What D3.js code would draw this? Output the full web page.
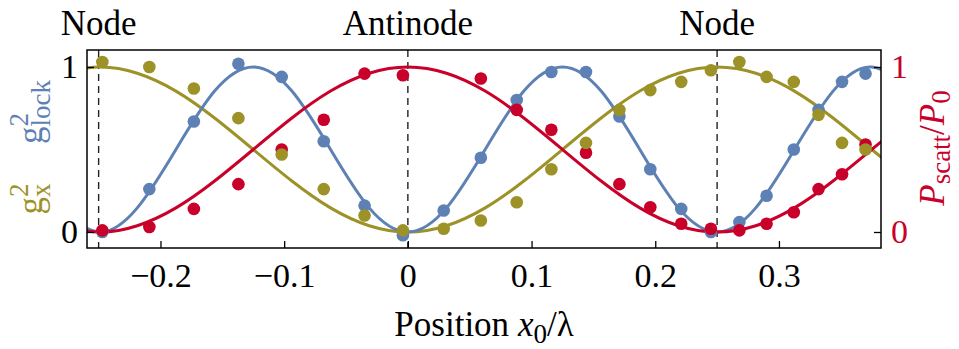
<!DOCTYPE html>
<html>
<head>
<meta charset="utf-8">
<script src="https://cdn.jsdelivr.net/npm/d3@7"></script>
<style>
  body { margin: 0; background: #fff; }
</style>
</head>
<body>
<div id="chart"></div>
<script>
// measured points (shared x positions, in units of lambda)
const dotX = [-0.247, -0.209, -0.173, -0.137, -0.102, -0.068, -0.035, -0.004, 0.029, 0.059, 0.088, 0.116,
              0.144, 0.171, 0.196, 0.221, 0.245, 0.268, 0.290, 0.312, 0.332, 0.351, 0.370];
const lockDots = [0.00, 0.26, 0.67, 1.02, 0.94, 0.55, 0.16, -0.02, 0.13, 0.45, 0.80, 0.97,
                  0.97, 0.70, 0.38, 0.14, 0.00, 0.06, 0.22, 0.50, 0.74, 0.91, 0.96];
const xDots = [1.03, 1.00, 0.87, 0.69, 0.47, 0.26, 0.10, 0.01, 0.02, 0.07, 0.18, 0.38,
               0.54, 0.74, 0.86, 0.91, 0.98, 1.03, 0.94, 0.91, 0.71, 0.54, 0.50];
const scattDots = [0.01, 0.03, 0.14, 0.29, 0.50, 0.68, 0.96, 0.95, null, 0.93, 0.74, 0.62,
                   0.48, 0.29, 0.15, 0.05, 0.02, 0.01, 0.05, 0.12, 0.26, 0.35, 0.53];

const curveX = [-0.28125, -0.25, -0.21875, -0.1875, -0.15625, -0.125, -0.09375, -0.0625, -0.03125, 0,
                0.03125, 0.0625, 0.09375, 0.125, 0.15625, 0.1875, 0.21875, 0.25, 0.28125, 0.3125,
                0.34375, 0.375, 0.40625];
const lockCurve = [0.146, 0, 0.146, 0.5, 0.854, 1, 0.854, 0.5, 0.146, 0, 0.146, 0.5, 0.854, 1,
                   0.854, 0.5, 0.146, 0, 0.146, 0.5, 0.854, 1, 0.854];
const xCurve = [0.962, 1, 0.962, 0.854, 0.691, 0.5, 0.309, 0.146, 0.038, 0, 0.038, 0.146, 0.309, 0.5,
                0.691, 0.854, 0.962, 1, 0.962, 0.854, 0.691, 0.5, 0.309];
const scattCurve = [0.038, 0, 0.038, 0.146, 0.309, 0.5, 0.691, 0.854, 0.962, 1, 0.962, 0.854, 0.691, 0.5,
                    0.309, 0.146, 0.038, 0, 0.038, 0.146, 0.309, 0.5, 0.691];

const xTicks = [-0.2, -0.1, 0, 0.1, 0.2, 0.3];
const yTicks = [0, 1];
const markers = [{x: -0.25, label: "Node"}, {x: 0, label: "Antinode"}, {x: 0.25, label: "Node"}];

const BLUE = "#5e81b5";
const OLIVE = "#9c9227";
const RED = "#c8002a";
const FONT = "'Liberation Serif', Tinos, 'Times New Roman', serif";

const W = 959, H = 349;
const plotLeft = 87, plotTop = 50, plotRight = 881, plotBottom = 248;
const FS = 35;      // labels
const TICK_FS = 34;
const SUB_FS = 27;

const svg = d3.select("#chart").append("svg")
    .attr("width", W).attr("height", H)
    .style("font-family", FONT);

const x = d3.scaleLinear().domain([-0.2594, 0.3825]).range([plotLeft, plotRight]);
const y = d3.scaleLinear().domain([-0.097, 1.103]).range([plotBottom, plotTop]);

svg.append("clipPath").attr("id", "plot-clip")
    .append("rect")
    .attr("x", plotLeft).attr("y", plotTop)
    .attr("width", plotRight - plotLeft).attr("height", plotBottom - plotTop);

// dashed node / antinode lines
svg.selectAll("line.marker")
    .data(markers)
    .join("line")
    .attr("class", "marker")
    .attr("x1", d => x(d.x)).attr("x2", d => x(d.x))
    .attr("y1", plotTop).attr("y2", plotBottom)
    .attr("stroke", "#222")
    .attr("stroke-width", 1.4)
    .attr("stroke-dasharray", "7,5");

svg.selectAll("text.marker")
    .data(markers)
    .join("text")
    .attr("class", "marker")
    .attr("x", d => x(d.x))
    .attr("y", 35)
    .attr("text-anchor", "middle")
    .attr("font-size", FS)
    .text(d => d.label);

// curves
const line = d3.line()
    .x(d => x(d[0]))
    .y(d => y(d[1]))
    .curve(d3.curveNatural);

const curves = [
    {vals: xCurve, color: OLIVE},
    {vals: lockCurve, color: BLUE},
    {vals: scattCurve, color: RED}
];

const curveG = svg.append("g").attr("clip-path", "url(#plot-clip)");
curveG.selectAll("path")
    .data(curves)
    .join("path")
    .attr("d", c => line(curveX.map((v, i) => [v, c.vals[i]])))
    .attr("fill", "none")
    .attr("stroke", c => c.color)
    .attr("stroke-width", 3);

// measured dots
const dotSets = [
    {vals: lockDots, color: BLUE},
    {vals: scattDots, color: RED},
    {vals: xDots, color: OLIVE}
];

dotSets.forEach(s => {
    svg.append("g")
        .selectAll("circle")
        .data(dotX.map((v, i) => [v, s.vals[i]]).filter(d => d[1] !== null))
        .join("circle")
        .attr("cx", d => x(d[0]))
        .attr("cy", d => y(d[1]))
        .attr("r", 6.3)
        .attr("fill", s.color);
});

// frame
svg.append("rect")
    .attr("x", plotLeft).attr("y", plotTop)
    .attr("width", plotRight - plotLeft).attr("height", plotBottom - plotTop)
    .attr("fill", "none")
    .attr("stroke", "#000")
    .attr("stroke-width", 1.5);

// axes
const xAxis = svg.append("g")
    .attr("transform", `translate(0,${plotBottom})`)
    .call(d3.axisBottom(x)
        .tickValues(xTicks)
        .tickSizeInner(-7)
        .tickSizeOuter(0)
        .tickPadding(15)
        .tickFormat(d => d === 0 ? "0" : d3.format(".1f")(d)));

const yAxis = svg.append("g")
    .attr("transform", `translate(${plotLeft},0)`)
    .call(d3.axisLeft(y)
        .tickValues(yTicks)
        .tickSizeInner(-7)
        .tickSizeOuter(0)
        .tickPadding(9)
        .tickFormat(d3.format("d")));

const yAxisRight = svg.append("g")
    .attr("transform", `translate(${plotRight},0)`)
    .call(d3.axisRight(y)
        .tickValues(yTicks)
        .tickSizeInner(-7)
        .tickSizeOuter(0)
        .tickPadding(10)
        .tickFormat(d3.format("d")));

[xAxis, yAxis, yAxisRight].forEach(g => {
    g.attr("font-family", null);
    g.select(".domain").remove();
    g.selectAll(".tick line").attr("stroke", "#000").attr("stroke-width", 1.3);
    g.selectAll(".tick text")
        .style("font-family", FONT)
        .attr("font-size", TICK_FS)
        .attr("fill", "#000");
});
yAxisRight.selectAll(".tick text").attr("fill", RED);

// x axis title
const xt = svg.append("text")
    .attr("x", (plotLeft + plotRight) / 2)
    .attr("y", 336)
    .attr("text-anchor", "middle")
    .attr("font-size", FS);
xt.append("tspan").text("Position ");
xt.append("tspan").attr("font-style", "italic").text("x");
xt.append("tspan").attr("font-size", SUB_FS).attr("dy", 7).text("0");
xt.append("tspan").attr("dy", -7).text("/λ");

// left labels (rotated, superscript stacked over subscript)
function gLabel(cy, sub, color) {
    const t = svg.append("text")
        .attr("transform", `translate(42,${cy}) rotate(-90)`)
        .attr("text-anchor", "middle")
        .attr("font-size", FS)
        .attr("fill", color);
    t.append("tspan").text("g");
    t.append("tspan").attr("font-size", SUB_FS).attr("dy", -14).text("2");
    t.append("tspan").attr("font-size", SUB_FS).attr("dx", -13.5).attr("dy", 22).text(sub);
}
gLabel(112, "lock", BLUE);
gLabel(199, "x", OLIVE);

// right label
const pLabel = svg.append("text")
    .attr("transform", "translate(944,148) rotate(-90)")
    .attr("text-anchor", "middle")
    .attr("font-size", FS)
    .attr("fill", RED);
pLabel.append("tspan").attr("font-style", "italic").text("P");
pLabel.append("tspan").attr("font-size", SUB_FS).attr("dy", 6).text("scatt");
pLabel.append("tspan").attr("dy", -6).text("/");
pLabel.append("tspan").attr("font-style", "italic").text("P");
pLabel.append("tspan").attr("font-size", SUB_FS).attr("dy", 6).text("0");
</script>
</body>
</html>
